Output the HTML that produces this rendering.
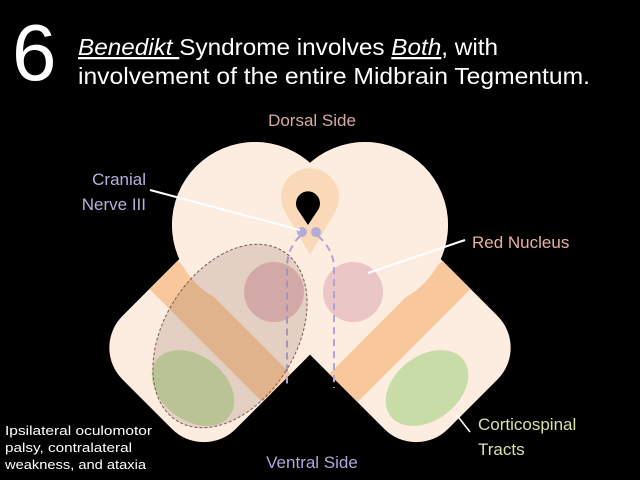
<!DOCTYPE html>
<html><head><meta charset="utf-8"><style>
html,body{margin:0;padding:0;background:#000;overflow:hidden;width:640px;height:480px;}
svg{display:block;}
text{font-family:"Liberation Sans",sans-serif;}
</style></head><body>
<svg width="640" height="480" viewBox="0 0 640 480" xmlns="http://www.w3.org/2000/svg">
<rect width="640" height="480" fill="#000"/>
<defs>
<clipPath id="cl"><rect x="-105" y="-80" width="210" height="160" rx="45" transform="translate(221.5,330) rotate(-45)"/></clipPath>
<clipPath id="cr"><rect x="-105" y="-80" width="210" height="160" rx="45" transform="translate(398.5,330) rotate(45)"/></clipPath>
</defs>
<g fill="#fdece0">
<circle cx="255" cy="225" r="83"/>
<circle cx="365" cy="225" r="83"/>
<rect x="-105" y="-80" width="210" height="160" rx="45" transform="translate(221.5,330) rotate(-45)"/>
<rect x="-105" y="-80" width="210" height="160" rx="45" transform="translate(398.5,330) rotate(45)"/>
</g>
<g clip-path="url(#cl)"><rect x="-22" y="-100" width="40" height="200" fill="#f8c89c" transform="translate(221.5,330) rotate(-45)"/></g>
<g clip-path="url(#cr)"><rect x="-18" y="-100" width="40" height="200" fill="#f8c89c" transform="translate(398.5,330) rotate(45)"/></g>
<g fill="#fdece0"><circle cx="255" cy="225" r="83"/><circle cx="365" cy="225" r="83"/></g>
<path d="M310,255 L285,212 A29,29 0 1 1 335,212 Z" fill="#fad9b8"/>
<path d="M308,225 L298,210 A12,12 0 1 1 318,210 Z" fill="#000"/>
<circle cx="274" cy="292" r="30" fill="#e6bcbc"/>
<circle cx="353" cy="292" r="30" fill="#ebc6c6"/>
<ellipse cx="193" cy="388" rx="46" ry="32" transform="rotate(38 193 388)" fill="#c8dca8"/>
<ellipse cx="427" cy="388" rx="46" ry="32" transform="rotate(-38 427 388)" fill="#c8dca8"/>
<path d="M300,236 Q288,248 287,265 L287,388" fill="none" stroke="#b0a2d4" stroke-width="2" stroke-dasharray="7,5"/>
<path d="M318,236 Q332,248 334,265 L334,388" fill="none" stroke="#b0a2d4" stroke-width="2" stroke-dasharray="7,5"/>
<circle cx="302" cy="232" r="5" fill="#b5aad8"/>
<circle cx="316" cy="232" r="5" fill="#b5aad8"/>
<ellipse cx="230" cy="336" rx="66" ry="100" transform="rotate(32 230 336)" fill="rgba(130,95,80,0.2)" stroke="#7a5a55" stroke-width="1" stroke-dasharray="3,2"/>
<line x1="150" y1="190" x2="300" y2="230" stroke="#fff" stroke-width="2"/>
<line x1="465" y1="240" x2="368" y2="273" stroke="#fff" stroke-width="2"/>
<line x1="470" y1="432" x2="456" y2="414" stroke="#fff" stroke-width="1.5"/>
<text x="12" y="80" font-size="80" fill="#fff">6</text>
<text x="78" y="55" font-size="23" fill="#fff" textLength="420" lengthAdjust="spacingAndGlyphs"><tspan font-style="italic" text-decoration="underline">Benedikt </tspan>Syndrome involves <tspan font-style="italic" text-decoration="underline">Both</tspan>, with</text>
<text x="78" y="84" font-size="23" fill="#fff" textLength="512" lengthAdjust="spacingAndGlyphs">involvement of the entire Midbrain Tegmentum.</text>
<text x="312" y="126" font-size="17" fill="#d8aaa4" text-anchor="middle">Dorsal Side</text>
<text x="146" y="185" font-size="17" fill="#b8b0d8" text-anchor="end">Cranial</text>
<text x="146" y="210" font-size="17" fill="#b8b0d8" text-anchor="end">Nerve III</text>
<text x="472" y="248" font-size="17" fill="#e8b0a4">Red Nucleus</text>
<text x="478" y="430" font-size="17" fill="#d8e0a8">Corticospinal</text>
<text x="478" y="455" font-size="17" fill="#d8e0a8">Tracts</text>
<text x="312" y="468" font-size="17" fill="#b0a8d8" text-anchor="middle">Ventral Side</text>
<text x="5" y="435" font-size="13" fill="#fff" textLength="147" lengthAdjust="spacingAndGlyphs">Ipsilateral oculomotor</text>
<text x="5" y="452" font-size="13" fill="#fff" textLength="127" lengthAdjust="spacingAndGlyphs">palsy, contralateral</text>
<text x="5" y="469" font-size="13" fill="#fff" textLength="141" lengthAdjust="spacingAndGlyphs">weakness, and ataxia</text>
</svg>
</body></html>
